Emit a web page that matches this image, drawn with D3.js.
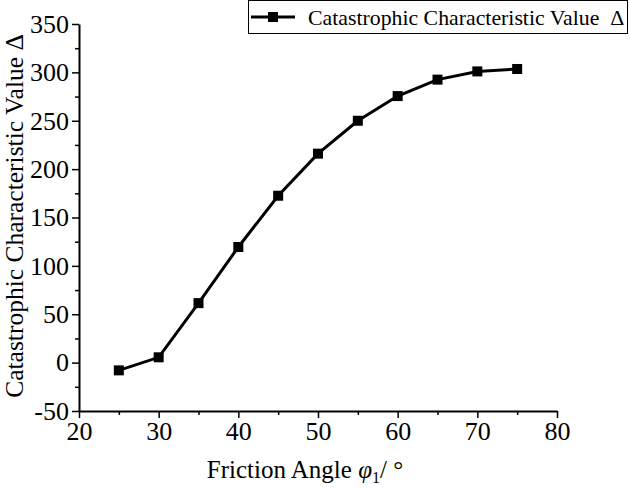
<!DOCTYPE html>
<html><head><meta charset="utf-8">
<script src="https://cdn.jsdelivr.net/npm/d3@7"></script>
<style>body{margin:0;background:#fff}svg{display:block}text{font-family:"Liberation Serif","Times New Roman",serif;fill:#000}</style>
</head><body>
<script>
const angles = [25,30,35,40,45,50,55,60,65,70,75];
const values = [-8,5.5,61.5,119.5,172.5,216,250,275.5,292.5,301,303.5];
const xTicks = [20,30,40,50,60,70,80];
const yTicks = [-50,0,50,100,150,200,250,300,350];
const seriesName = "Catastrophic Characteristic Value\u00a0\u00a0\u0394";

const W=630,H=490;
const svg=d3.select("body").append("svg").attr("width",W).attr("height",H);
const x=d3.scaleLinear().domain([20,80]).range([79,557]);
const y=d3.scaleLinear().domain([-50,350]).range([411,24]);

const fmt=d=>String(d);
const xMinor=d3.range(25,80,10), yMinor=d3.range(-25,350,50);
svg.append("g").attr("transform","translate(0,411)")
  .call(d3.axisBottom(x).tickValues(xTicks).tickFormat(fmt).tickSize(7).tickSizeOuter(0).tickPadding(4));
svg.append("g").attr("transform","translate(0,411)")
  .call(d3.axisBottom(x).tickValues(xMinor).tickSize(4).tickSizeOuter(0).tickFormat(""))
  .select(".domain").remove();
svg.append("g").attr("transform","translate(79,0)")
  .call(d3.axisLeft(y).tickValues(yTicks).tickFormat(fmt).tickSize(7).tickSizeOuter(0).tickPadding(3));
svg.append("g").attr("transform","translate(79,0)")
  .call(d3.axisLeft(y).tickValues(yMinor).tickSize(4).tickSizeOuter(0).tickFormat(""))
  .select(".domain").remove();
svg.selectAll("g").attr("font-family","Liberation Serif");
svg.selectAll(".domain").attr("stroke","#000").attr("stroke-width",2);
svg.selectAll(".tick line").attr("stroke","#000").attr("stroke-width",1.5);
svg.selectAll(".tick text").attr("font-size",26).attr("fill","#000");

// axis titles
svg.append("text").attr("x",305).attr("y",478).attr("text-anchor","middle").attr("font-size",25)
  .html('Friction Angle <tspan font-style="italic">\u03c6</tspan><tspan font-size="16" dy="5">1</tspan><tspan dy="-5">/ \u00b0</tspan>');
svg.append("text").attr("transform","translate(23,216) rotate(-90)").attr("text-anchor","middle").attr("font-size",25.5)
  .text("Catastrophic Characteristic Value \u0394");

// series
const data=angles.map((a,i)=>({a,v:values[i]}));
svg.append("path").datum(data).attr("fill","none").attr("stroke","#000").attr("stroke-width",3)
  .attr("d",d3.line().x(d=>x(d.a)).y(d=>y(d.v)));
svg.selectAll("rect.pt").data(data).join("rect").attr("class","pt")
  .attr("x",d=>x(d.a)-5).attr("y",d=>y(d.v)-5).attr("width",10).attr("height",10).attr("fill","#000");

// legend
const lg=svg.append("g");
lg.append("rect").attr("x",248.5).attr("y",0.5).attr("width",379).attr("height",33).attr("fill","#fff").attr("stroke","#000").attr("stroke-width",1);
lg.append("line").attr("x1",251).attr("x2",295).attr("y1",17).attr("y2",17).attr("stroke","#000").attr("stroke-width",3);
lg.append("rect").attr("x",268).attr("y",12).attr("width",10).attr("height",10).attr("fill","#000");
lg.append("text").attr("x",308).attr("y",25).attr("font-size",21.8).text(seriesName);
</script>
</body></html>
